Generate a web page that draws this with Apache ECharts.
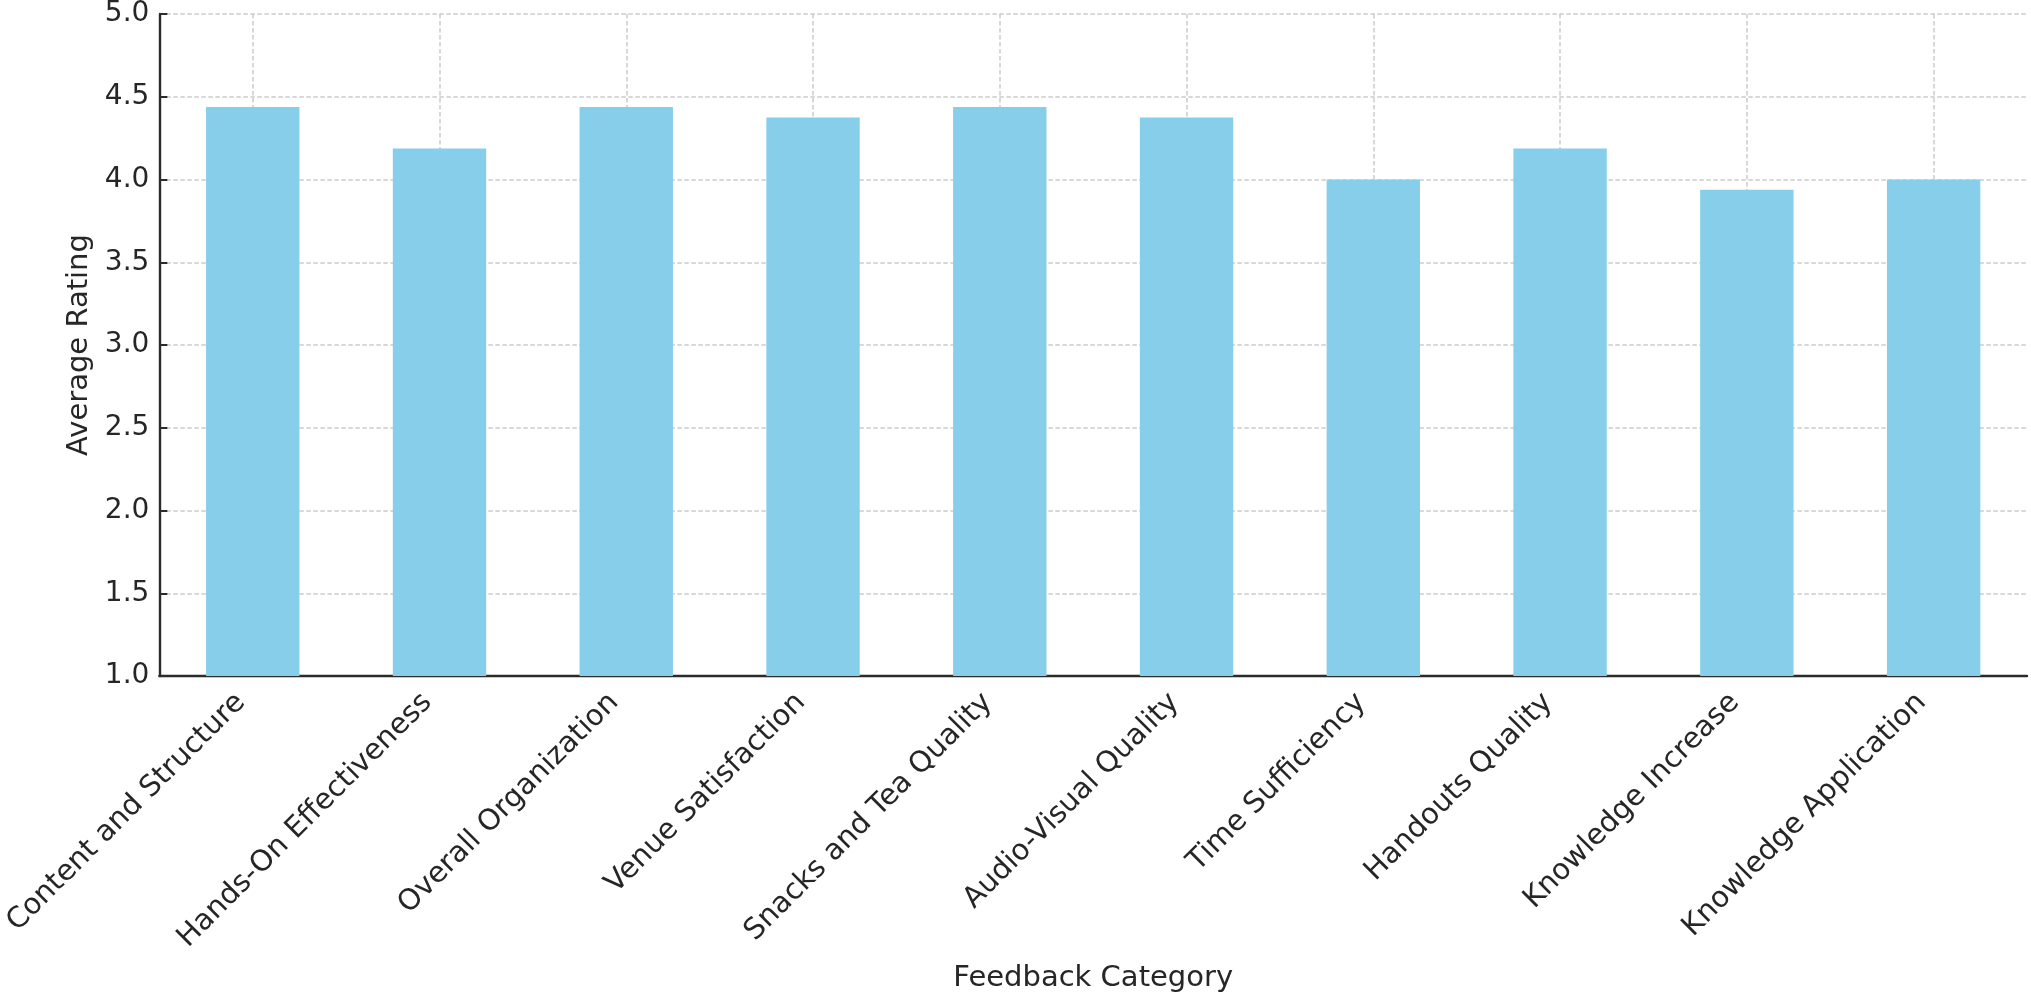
<!DOCTYPE html>
<html>
<head>
<meta charset="utf-8">
<script src="https://cdn.jsdelivr.net/npm/echarts@6/dist/echarts.min.js"></script>
<style>
html,body{margin:0;padding:0;background:#fff;}
#chart{width:2031px;height:998px;}
</style>
</head>
<body>
<div id="chart"></div>
<script>
const categories = [
  "Content and Structure",
  "Hands-On Effectiveness",
  "Overall Organization",
  "Venue Satisfaction",
  "Snacks and Tea Quality",
  "Audio-Visual Quality",
  "Time Sufficiency",
  "Handouts Quality",
  "Knowledge Increase",
  "Knowledge Application"
];
const averageRatings = [4.4375, 4.1875, 4.4375, 4.375, 4.4375, 4.375, 4.0, 4.1875, 3.9375, 4.0];
const yTicks = { min: 1.0, max: 5.0, step: 0.5 };

const FONT = "DejaVu Sans";
const chart = echarts.init(document.getElementById('chart'), null, { renderer: 'canvas' });
const gridLine = { show: true, lineStyle: { color: '#cccccc', type: [4.5, 2.5], width: 1.5 } };
chart.setOption({
  animation: false,
  textStyle: { fontFamily: FONT },
  grid: { left: 155, right: 4, top: 13, bottom: 317, containLabel: false },
  xAxis: {
    type: 'category',
    data: categories,
    boundaryGap: true,
    name: 'Feedback Category',
    nameLocation: 'middle',
    nameGap: 288,
    nameTextStyle: { fontFamily: FONT, fontSize: 29, color: '#262626' },
    axisLine: { show: true, lineStyle: { color: '#2b2b2b', width: 2.4 } },
    axisTick: { show: true, inside: true, alignWithLabel: true, length: 8, lineStyle: { color: '#2b2b2b', width: 2 } },
    axisLabel: { rotate: 45, fontSize: 29, fontFamily: FONT, color: '#262626', margin: 10, interval: 0, padding: [0, 17, 0, 0] },
    splitLine: Object.assign({ alignWithLabel: true }, gridLine)
  },
  yAxis: {
    type: 'value',
    min: yTicks.min,
    max: yTicks.max,
    interval: yTicks.step,
    name: 'Average Rating',
    nameLocation: 'middle',
    nameGap: 62,
    nameTextStyle: { fontFamily: FONT, fontSize: 29, color: '#262626' },
    axisLine: { show: true, lineStyle: { color: '#2b2b2b', width: 2.4 } },
    axisTick: { show: true, inside: true, length: 8, lineStyle: { color: '#2b2b2b', width: 2 } },
    axisLabel: { fontSize: 28, fontFamily: FONT, color: '#262626', margin: 10, formatter: v => v.toFixed(1) },
    splitLine: gridLine
  },
  series: [{
    type: 'bar',
    data: averageRatings,
    barWidth: '50%',
    itemStyle: { color: '#87CEEB' },
    z: 1
  }]
});
</script>
</body>
</html>
